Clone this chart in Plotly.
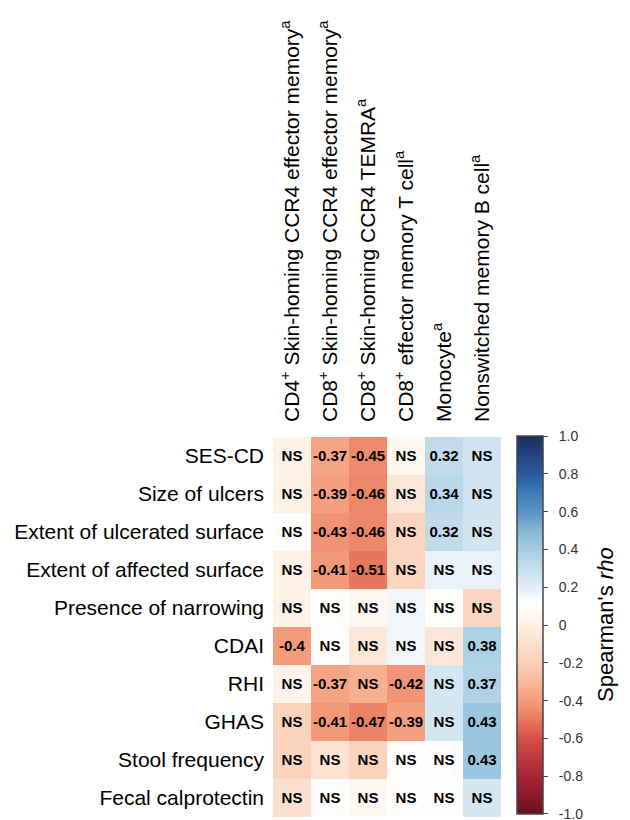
import plotly.graph_objects as go

# Immune cell subsets (columns)
cell_types = [
    "CD4<sup>+</sup> Skin-homing CCR4 effector memory<sup>a</sup>",
    "CD8<sup>+</sup> Skin-homing CCR4 effector memory<sup>a</sup>",
    "CD8<sup>+</sup> Skin-homing CCR4 TEMRA<sup>a</sup>",
    "CD8<sup>+</sup> effector memory T cell<sup>a</sup>",
    "Monocyte<sup>a</sup>",
    "Nonswitched memory B cell<sup>a</sup>",
]

# Clinical / endoscopic indices (rows)
indices = [
    "SES-CD",
    "Size of ulcers",
    "Extent of ulcerated surface",
    "Extent of affected surface",
    "Presence of narrowing",
    "CDAI",
    "RHI",
    "GHAS",
    "Stool frequency",
    "Fecal calprotectin",
]

# Spearman's rho, one list per index
rho_ses_cd      = [0.01, -0.37, -0.45, 0.06, 0.32, 0.27]
rho_ulcer_size  = [0.01, -0.39, -0.46, -0.06, 0.34, 0.27]
rho_ulcerated   = [0.11, -0.43, -0.46, -0.17, 0.32, 0.26]
rho_affected    = [0.01, -0.41, -0.51, -0.17, 0.18, 0.18]
rho_narrowing   = [0.01, 0.11, 0.06, 0.16, 0.11, -0.17]
rho_cdai        = [-0.40, 0.11, -0.06, 0.16, -0.06, 0.38]
rho_rhi         = [0.02, -0.37, -0.33, -0.42, 0.25, 0.37]
rho_ghas        = [-0.18, -0.41, -0.47, -0.39, 0.25, 0.43]
rho_stool       = [-0.18, -0.08, -0.18, 0.11, 0.11, 0.43]
rho_calpro      = [-0.10, 0.11, 0.06, 0.11, 0.11, 0.25]

# Significance flags (1 = significant, value printed; 0 = NS)
sig_ses_cd      = [0, 1, 1, 0, 1, 0]
sig_ulcer_size  = [0, 1, 1, 0, 1, 0]
sig_ulcerated   = [0, 1, 1, 0, 1, 0]
sig_affected    = [0, 1, 1, 0, 0, 0]
sig_narrowing   = [0, 0, 0, 0, 0, 0]
sig_cdai        = [1, 0, 0, 0, 0, 1]
sig_rhi         = [0, 1, 0, 1, 0, 1]
sig_ghas        = [0, 1, 1, 1, 0, 1]
sig_stool       = [0, 0, 0, 0, 0, 1]
sig_calpro      = [0, 0, 0, 0, 0, 0]

z = [rho_ses_cd, rho_ulcer_size, rho_ulcerated, rho_affected, rho_narrowing,
     rho_cdai, rho_rhi, rho_ghas, rho_stool, rho_calpro]
sig = [sig_ses_cd, sig_ulcer_size, sig_ulcerated, sig_affected, sig_narrowing,
       sig_cdai, sig_rhi, sig_ghas, sig_stool, sig_calpro]

cell_text = [[(f"{v:g}" if s else "NS") for v, s in zip(zr, sr)] for zr, sr in zip(z, sig)]

cbar_ticks = [1.0, 0.8, 0.6, 0.4, 0.2, 0.0, -0.2, -0.4, -0.6, -0.8, -1.0]
cbar_ticktext = ["1.0", "0.8", "0.6", "0.4", "0.2", "0", "-0.2", "-0.4", "-0.6", "-0.8", "-1.0"]

colorscale = [
    [0.00, "#6a1020"],
    [0.10, "#a82436"],
    [0.20, "#d55045"],
    [0.25, "#e87a5e"],
    [0.30, "#f39c7c"],
    [0.35, "#f9b99b"],
    [0.40, "#fbd0b8"],
    [0.50, "#fdf0e6"],
    [0.56, "#ffffff"],
    [0.60, "#e2edf5"],
    [0.65, "#c6deec"],
    [0.70, "#a6cce3"],
    [0.75, "#84b6d6"],
    [0.80, "#5a93c6"],
    [0.85, "#3a7cb8"],
    [0.90, "#2a5a9a"],
    [1.00, "#1f2d5e"],
]

W, H = 630, 820
FONT = "Liberation Sans, Arial, sans-serif"
NBSP = "\u00a0"

# keep the end ticks just inside the bar so both end labels are drawn
tick_positions = [max(min(t, 0.998), -0.998) for t in cbar_ticks]

fig = go.Figure(
    go.Heatmap(
        z=z,
        x=cell_types,
        y=indices,
        text=cell_text,
        texttemplate="<b>%{text}</b>",
        textfont=dict(family=FONT, size=15, color="black"),
        colorscale=colorscale,
        zmin=-1,
        zmax=1,
        xgap=0,
        ygap=0,
        hoverinfo="skip",
        colorbar=dict(
            x=517 / W,
            xanchor="left",
            xpad=0,
            ypad=0,
            y=1 - 625 / H,
            yanchor="middle",
            len=378 / H,
            lenmode="fraction",
            thickness=26,
            thicknessmode="pixels",
            outlinecolor="#444444",
            outlinewidth=1.5,
            ticks="outside",
            ticklen=5,
            tickwidth=1.2,
            tickcolor="#444444",
            tickvals=tick_positions,
            ticktext=[NBSP * 2 + t for t in cbar_ticktext],
            ticklabeloverflow="allow",
            tickfont=dict(family=FONT, size=14, color="#333333"),
        ),
    )
)

fig.update_layout(
    width=W,
    height=H,
    margin=dict(l=0, r=0, t=0, b=0),
    paper_bgcolor="white",
    plot_bgcolor="white",
    font=dict(family=FONT, color="black"),
    xaxis=dict(
        domain=[273 / W, 501 / W],
        side="top",
        tickangle=-90,
        tickfont=dict(family=FONT, size=21, color="black"),
        ticks="",
        showgrid=False,
        zeroline=False,
        showline=False,
        ticklabelstandoff=14,
    ),
    yaxis=dict(
        domain=[1 - 817 / H, 1 - 437 / H],
        autorange="reversed",
        tickfont=dict(family=FONT, size=21, color="black"),
        ticks="",
        showgrid=False,
        zeroline=False,
        showline=False,
        ticklabelstandoff=8,
    ),
    annotations=[
        dict(
            text="Spearman's <i>rho</i>",
            x=605 / W,
            y=1 - 625 / H,
            xref="paper",
            yref="paper",
            xanchor="center",
            yanchor="middle",
            textangle=-90,
            showarrow=False,
            font=dict(family=FONT, size=22, color="black"),
        )
    ],
)

fig.write_html("out.html")
